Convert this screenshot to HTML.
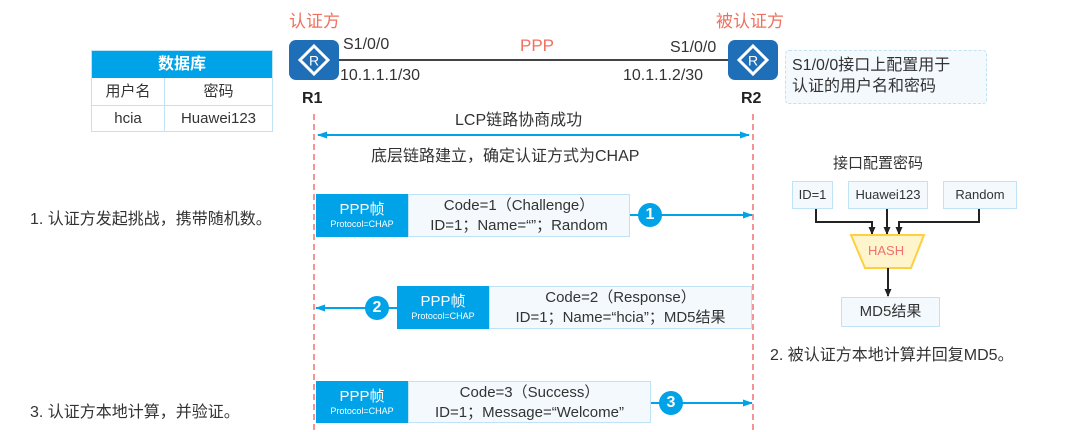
<!DOCTYPE html>
<html><head><meta charset="utf-8"><style>
body{margin:0;width:1080px;height:432px;background:#fff;position:relative;overflow:hidden;font-family:"Liberation Sans","Noto Sans CJK SC",sans-serif;color:#333}
.a{position:absolute;white-space:nowrap}
.rt{position:absolute;width:50px;height:40px;background:#1f6fb8;border-radius:7px}
.blue{position:absolute;background:#00a2e8;color:#fff;text-align:center}
.wb{position:absolute;background:#f3f9fd;border:1px solid #bfe3f5;box-sizing:border-box;text-align:center;font-size:15px;line-height:20px;padding-top:1px}
.circ{position:absolute;width:24px;height:24px;border-radius:50%;background:#00a2e8;color:#fff;font-weight:bold;font-size:16px;text-align:center;line-height:24px}
.sb{position:absolute;background:#f3f9fd;border:1.5px solid #bfe3f5;box-sizing:border-box;text-align:center;font-size:13px}
</style></head><body>
<svg class="a" style="left:0;top:0" width="1080" height="432">
<defs><marker id="ar" markerUnits="userSpaceOnUse" markerWidth="10" markerHeight="10" refX="9" refY="5" orient="auto"><path d="M0,1.5 L10,5 L0,8.5z" fill="#00a2e8"/></marker>
<marker id="al" markerUnits="userSpaceOnUse" markerWidth="10" markerHeight="10" refX="1" refY="5" orient="auto"><path d="M10,1.5 L0,5 L10,8.5z" fill="#00a2e8"/></marker>
<marker id="bk" markerUnits="userSpaceOnUse" markerWidth="8" markerHeight="8" refX="7" refY="4" orient="auto"><path d="M0,0.5 L8,4 L0,7.5z" fill="#222"/></marker></defs>
<line x1="338" y1="60" x2="728" y2="60" stroke="#444" stroke-width="2"/>
<line x1="314" y1="114" x2="314" y2="432" stroke="#f07070" stroke-width="1.5" stroke-dasharray="6,4"/>
<line x1="753" y1="114" x2="753" y2="432" stroke="#f07070" stroke-width="1.5" stroke-dasharray="6,4"/>
<line x1="318" y1="135" x2="749" y2="135" stroke="#00a2e8" stroke-width="2" marker-end="url(#ar)" marker-start="url(#al)"/>
<line x1="630" y1="215" x2="752" y2="215" stroke="#00a2e8" stroke-width="2" marker-end="url(#ar)"/>
<line x1="397" y1="308" x2="316" y2="308" stroke="#00a2e8" stroke-width="2" marker-end="url(#ar)"/>
<line x1="651" y1="403" x2="752" y2="403" stroke="#00a2e8" stroke-width="2" marker-end="url(#ar)"/>
<path d="M816,209 V222 H872 V234" fill="none" stroke="#222" stroke-width="2" marker-end="url(#bk)"/>
<line x1="887" y1="209" x2="887" y2="234" stroke="#222" stroke-width="2" marker-end="url(#bk)"/>
<path d="M979,209 V222 H899 V234" fill="none" stroke="#222" stroke-width="2" marker-end="url(#bk)"/>
<polygon points="851,235 924,235 911,268 865,268" fill="#fff5cc" stroke="#ffcf40" stroke-width="2"/>
<line x1="888" y1="268" x2="888" y2="296" stroke="#222" stroke-width="2" marker-end="url(#bk)"/>
</svg>
<div class="a" style="left:289px;top:7px;font-size:17px;color:#f07060">认证方</div>
<div class="a" style="left:716px;top:7px;font-size:17px;color:#f07060">被认证方</div>
<div class="rt" style="left:289px;top:40px"><svg width="50" height="40"><polygon points="25,6 39,20 25,34 11,20" fill="none" stroke="#fff" stroke-width="3"/><text x="25" y="25.5" fill="#fff" font-size="14" text-anchor="middle" font-family="Liberation Sans">R</text></svg></div>
<div class="rt" style="left:728px;top:40px"><svg width="50" height="40"><polygon points="25,6 39,20 25,34 11,20" fill="none" stroke="#fff" stroke-width="3"/><text x="25" y="25.5" fill="#fff" font-size="14" text-anchor="middle" font-family="Liberation Sans">R</text></svg></div>
<div class="a" style="left:302px;top:90px;font-size:16px;font-weight:bold;color:#222">R1</div>
<div class="a" style="left:741px;top:90px;font-size:16px;font-weight:bold;color:#222">R2</div>
<div class="a" style="left:343px;top:36px;font-size:16px">S1/0/0</div>
<div class="a" style="left:340px;top:67px;font-size:16px">10.1.1.1/30</div>
<div class="a" style="left:670px;top:39px;font-size:16px">S1/0/0</div>
<div class="a" style="left:623px;top:67px;font-size:16px">10.1.1.2/30</div>
<div class="a" style="left:520px;top:36px;font-size:17px;color:#f07060">PPP</div>
<div class="a" style="left:455px;top:106px;font-size:16px">LCP链路协商成功</div>
<div class="a" style="left:371px;top:142px;font-size:16px">底层链路建立，确定认证方式为CHAP</div>
<div class="a" style="left:91px;top:50px;width:182px;height:82px;border:1px solid #bfe3f5;box-sizing:border-box;font-size:15px">
<div style="height:27px;background:#00a2e8;color:#fff;font-weight:bold;text-align:center;line-height:27px;font-size:16px">数据库</div>
<div style="display:flex;height:27px;line-height:27px;border-bottom:1px solid #bfe3f5"><div style="width:72px;text-align:center;border-right:1px solid #bfe3f5">用户名</div><div style="flex:1;text-align:center">密码</div></div>
<div style="display:flex;height:26px;line-height:26px"><div style="width:72px;text-align:center;border-right:1px solid #bfe3f5">hcia</div><div style="flex:1;text-align:center">Huawei123</div></div></div>
<div class="a" style="left:785px;top:50px;width:202px;height:54px;border:1px dashed #bfe3f5;background:#f3f9fd;border-radius:4px;font-size:16px;line-height:21px;padding:4px 0 0 6px;box-sizing:border-box">S1/0/0接口上配置用于<br>认证的用户名和密码</div>
<div class="blue" style="left:316px;top:194px;width:92px;height:43px"><div style="font-size:15px;margin-top:4px">PPP帧</div><div style="font-size:9px">Protocol=CHAP</div></div>
<div class="wb" style="left:408px;top:194px;width:222px;height:43px">Code=1（Challenge）<br>ID=1；Name=“”；Random</div>
<div class="circ" style="left:638px;top:203px">1</div>
<div class="blue" style="left:397px;top:286px;width:92px;height:43px"><div style="font-size:15px;margin-top:4px">PPP帧</div><div style="font-size:9px">Protocol=CHAP</div></div>
<div class="wb" style="left:489px;top:286px;width:263px;height:43px">Code=2（Response）<br>ID=1；Name=“hcia”；MD5结果</div>
<div class="circ" style="left:365px;top:296px">2</div>
<div class="blue" style="left:316px;top:381px;width:92px;height:42px"><div style="font-size:15px;margin-top:4px">PPP帧</div><div style="font-size:9px">Protocol=CHAP</div></div>
<div class="wb" style="left:408px;top:381px;width:243px;height:42px">Code=3（Success）<br>ID=1；Message=“Welcome”</div>
<div class="circ" style="left:659px;top:391px">3</div>
<div class="a" style="left:30px;top:205px;font-size:16px">1. 认证方发起挑战，携带随机数。</div>
<div class="a" style="left:30px;top:398px;font-size:16px">3. 认证方本地计算，并验证。</div>
<div class="a" style="left:770px;top:341px;font-size:16px">2. 被认证方本地计算并回复MD5。</div>
<div class="a" style="left:833px;top:152px;font-size:15px">接口配置密码</div>
<div class="sb" style="left:792px;top:181px;width:41px;height:28px;line-height:25px">ID=1</div>
<div class="sb" style="left:848px;top:181px;width:80px;height:28px;line-height:25px">Huawei123</div>
<div class="sb" style="left:943px;top:181px;width:74px;height:28px;line-height:25px">Random</div>
<div class="a" style="left:868px;top:243px;font-size:13px;color:#f07070">HASH</div>
<div class="sb" style="left:841px;top:297px;width:99px;height:30px;line-height:27px;font-size:15px">MD5结果</div>
</body></html>
